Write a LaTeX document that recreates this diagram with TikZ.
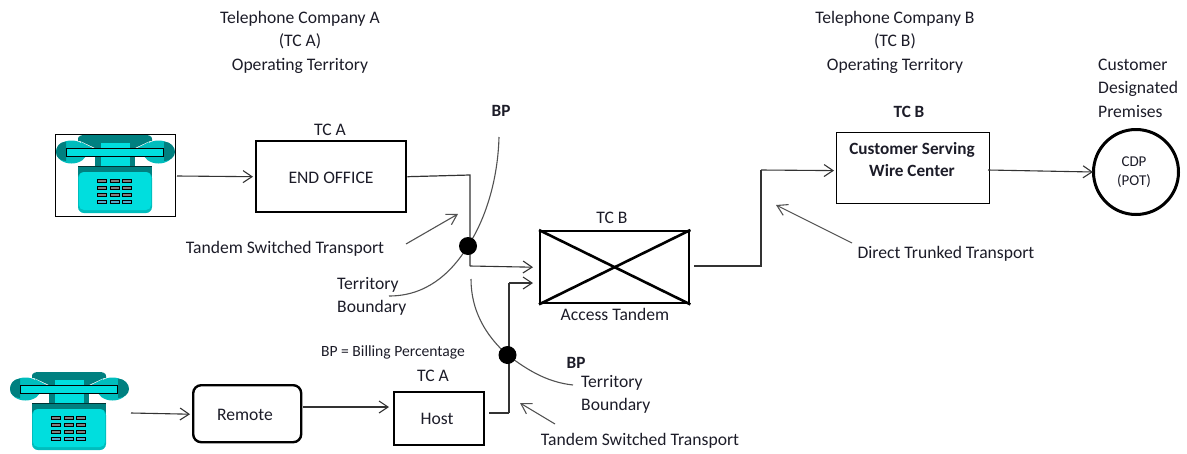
\documentclass[tikz,border=0pt]{standalone}
\usepackage{fontspec}
\setmainfont{Carlito}
\usetikzlibrary{arrows.meta,calc}
\definecolor{tealdark}{HTML}{008080}
\definecolor{cyanbody}{HTML}{00DEDE}
\definecolor{cyanmid}{HTML}{00BDBD}
\definecolor{ink}{HTML}{1C1C28}
\definecolor{wire}{HTML}{333333}
\tikzset{
  txt/.style={font=\fontsize{17.6}{23.5}\selectfont,text=ink,inner sep=0pt,align=center},
  txtb/.style={txt,font=\fontsize{17.2}{22.5}\selectfont\bfseries},
  txts/.style={txt,font=\fontsize{15.6}{18}\selectfont},
  txtc/.style={txt,font=\fontsize{15}{19}\selectfont},
  wirearrow/.style={draw=wire,line width=1.1pt,-{Straight Barb[length=9pt,width=12pt,line width=1.1pt]}},
  wireline/.style={draw=wire,line width=1.2pt},
  boundary/.style={draw=wire!85,line width=1.1pt},
  note/.style={draw=wire!85,line width=1.1pt,-{Straight Barb[length=10pt,width=12pt,line width=1.1pt]}},
  heavybox/.style={draw=black,line width=2.4pt,inner sep=0pt},
  thinbox/.style={draw=black,line width=1.2pt,inner sep=0pt},
  dot/.style={circle,fill=black,inner sep=0pt,minimum size=18pt},
  phonebox/.style={draw=black,line width=0.9pt,inner sep=0pt,minimum width=120pt,minimum height=82pt},
  phone/.pic={
    % ear pieces
    \fill[cyanmid] (16.5,18) ellipse[x radius=15.5pt,y radius=11.5pt];
    \fill[cyanmid] (103.5,18) ellipse[x radius=15.5pt,y radius=11.5pt];
    \fill[tealdark] (11,7.5) .. controls (4,8) and (1,13) .. (1,18) .. controls (1,23) and (5,27) .. (11,27) -- cycle;
    \fill[tealdark] (109,7.5) .. controls (116,8) and (120,13) .. (120,18) .. controls (120,23) and (115,27) .. (109,27) -- cycle;
    % cradle top and slopes
    \fill[tealdark] (23,5) .. controls (23,2) and (26,1) .. (30,1) -- (90,1) .. controls (94,1) and (97,2) .. (97,5) -- (97,7) -- (23,7) -- cycle;
    \fill[tealdark] (23,6) -- (97,6) -- (80,14) -- (40,14) -- cycle;
    \fill[cyanmid] (26,8) -- (38,14) -- (26,14) -- cycle;
    \fill[cyanmid] (94,8) -- (82,14) -- (94,14) -- cycle;
    % neck
    \fill[tealdark] (40,20) rectangle (80,33);
    \fill[cyanbody] (46,9) rectangle (75,33);
    % handle bar
    \fill[cyanbody,draw=black,line width=0.9pt] (11,14) rectangle (108,22);
    % body
    \fill[tealdark] (23,32) rectangle (97,44);
    \fill[black!60!tealdark] (23,32) rectangle (97,33);
    \fill[cyanmid,rounded corners=6pt] (23,38) rectangle (97,79);
    \fill[cyanbody,rounded corners=5pt] (24,38) rectangle (96,76);
    % keys
    \foreach \kx in {42,55,67}{
      \foreach \ky/\kc in {45/gray,52/gray,59/gray,66/gray!40!cyan}{
        \fill[\kc,draw=black,line width=0.8pt] (\kx,\ky) rectangle ++(9,3.5);
      }
    }
  },
}
\begin{document}
\begin{tikzpicture}[x=1pt,y=-1pt]
\useasboundingbox (0,0) rectangle (1187,453);

% phones
\node[phonebox,anchor=north west] (phoneA) at (55,134) {};
\pic at (55,134) {phone};
\node[phonebox,draw=none,anchor=north west] (phoneB) at (9,371) {};
\pic at (9,371) {phone};

% boxes
\node[heavybox,minimum width=150pt,minimum height=71pt,anchor=north west] (endoffice) at (255,140) {};
\node[txt] (endofficetxt) at (331,178) {END OFFICE};
\node[heavybox,minimum width=149pt,minimum height=72pt,anchor=north west] (tandem) at (539,230) {};
\draw[line width=2.6pt] (tandem.north west) -- (tandem.south east);
\draw[line width=2.6pt] (tandem.south west) -- (tandem.north east);
\node[thinbox,minimum width=153pt,minimum height=71pt,anchor=north west] (wirecenter) at (836,132) {};
\node[txtb] (wirecentertxt) at (912,159.5) {Customer Serving\\Wire Center};
\node[draw=black,line width=3pt,circle,minimum size=85pt,inner sep=0pt] (cdp) at (1136,172) {};
\node[txtc] (cdptxt) at (1134,172) {CDP\\(POT)};
\node[draw=black,line width=2.4pt,rounded corners=8pt,minimum width=108pt,minimum height=57pt,anchor=north west,inner sep=0pt] (remote) at (192,384) {};
\node[txt] (remotetxt) at (245,414.5) {Remote};
\node[heavybox,minimum width=90pt,minimum height=53pt,anchor=north west] (host) at (393,391) {};
\node[txt] (hosttxt) at (437,418.5) {Host};

% territory boundaries
\coordinate (dA) at (468,246);
\coordinate (dB) at (507.5,355);
\coordinate (bA1) at (499,137);
\coordinate (bA2) at (389,296);
\coordinate (bB1) at (471,279);
\coordinate (bB2) at (573,385);
\draw[boundary] (bA1) .. controls (498,175) and (488,215) .. (dA) .. controls (450,275) and (425,296) .. (bA2);
\draw[boundary] (bB1) .. controls (471,310) and (485,335) .. (dB) .. controls (525,368) and (545,382) .. (bB2);

% connectors
\coordinate (j1) at (470,175);
\coordinate (j2) at (470,266);
\coordinate (s1) at (177,176);
\draw[wirearrow] (s1) -- ($(endoffice.west)+(-2,0)$);
\draw[wireline] (endoffice.east) -- (j1) -- (j2);
\draw[wirearrow] (j2) -- ($(tandem.west)+(-6,0)$);
\coordinate (h1) at (489,413);
\coordinate (h2) at (509,413);
\coordinate (h3) at (509,283);
\coordinate (h4) at (533,283);
\draw[wireline] (h1) -- (h2);
\draw[wireline] (h2) -- (h3);
\draw[wirearrow] (h3) -- (h4);
\coordinate (t1) at (694,266);
\coordinate (t2) at (761,266);
\coordinate (t3) at (761,170);
\draw[wireline] (t1) -- (t2) -- (t3);
\draw[wirearrow] (t3) -- ($(wirecenter.west)+(-2,2.5)$);
\coordinate (w1) at (988,170);
\coordinate (c1) at (1093,172);
\draw[wirearrow] (w1) -- (c1);
\coordinate (p1) at (131,413);
\draw[wirearrow] (p1) -- ($(remote.west)+(-2,0.5)$);
\coordinate (r1) at (303,407);
\coordinate (r2) at (389,407);
\draw[wirearrow] (r1) -- (r2);

% dots
\node[dot] (dotA) at (dA) {};
\node[dot] (dotB) at (dB) {};

% annotation arrows
\coordinate (n1a) at (406,244); \coordinate (n1b) at (458,214);
\draw[note] (n1a) -- (n1b);
\coordinate (n2a) at (555,424); \coordinate (n2b) at (520,403);
\draw[note] (n2a) -- (n2b);
\coordinate (n3a) at (852,243); \coordinate (n3b) at (776,205);
\draw[note] (n3a) -- (n3b);

% labels
\node[txt] (ta) at (300,42) {Telephone Company A\\(TC A)\\Operating Territory};
\node[txt] (tb) at (895,42) {Telephone Company B\\(TC B)\\Operating Territory};
\node[txt,align=left,anchor=west] (cd) at (1098,88) {Customer\\Designated\\Premises};
\node[txtb] (bp1) at (501,111) {BP};
\node[txt] (tca1) at (330,130) {TC A};
\node[txtb] (tcb1) at (909,112) {TC B};
\node[txt] (tcb2) at (612,218) {TC B};
\node[txt] (at) at (615,314) {Access Tandem};
\node[txts] (bpk) at (393,352) {BP = Billing Percentage};
\node[txt] (tca2) at (433,376) {TC A};
\node[txtb] (bp2) at (576,362.5) {BP};
\node[txt,align=left,anchor=west] (tb2) at (581,394.5) {Territory\\Boundary};
\node[txt,align=left,anchor=west] (tb1) at (337,296.5) {Territory\\Boundary};
\node[txt] (tst1) at (285,248.5) {Tandem Switched Transport};
\node[txt] (tst2) at (640,440.5) {Tandem Switched Transport};
\node[txt] (dtt) at (946,253.5) {Direct Trunked Transport};
\end{tikzpicture}
\end{document}
